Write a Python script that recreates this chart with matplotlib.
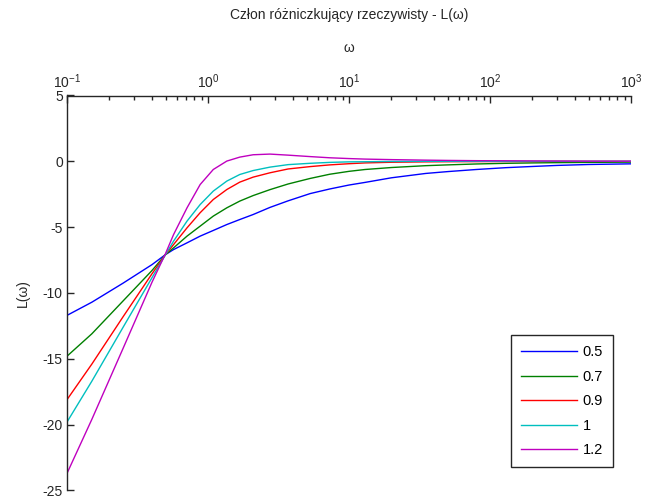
import numpy as np
import matplotlib
matplotlib.use("Agg")
import matplotlib.pyplot as plt
from matplotlib.ticker import LogLocator, NullFormatter

plt.rcParams['font.family'] = ['Liberation Sans', 'DejaVu Sans']
plt.rcParams['axes.unicode_minus'] = False

omega = [0.1, 0.15, 0.25, 0.4, 0.5, 0.57, 0.71, 0.88, 1.09, 1.36, 1.68, 2.09, 2.75, 3.7,
         5.3, 7.3, 10, 13, 20, 35, 50, 80, 130, 200, 300, 500, 1000]

L_05 = [-11.7, -10.7, -9.25, -7.85, -7.08, -6.7, -6.19, -5.68, -5.25, -4.8, -4.42, -4.04, -3.5, -3.0,
        -2.45, -2.1, -1.8, -1.6, -1.25, -0.92, -0.78, -0.62, -0.48, -0.39, -0.31, -0.24, -0.19]
L_07 = [-14.8, -13.1, -10.6, -8.3, -7.08, -6.57, -5.68, -4.92, -4.16, -3.53, -3.02, -2.6, -2.15, -1.72,
        -1.3, -0.98, -0.76, -0.62, -0.47, -0.33, -0.27, -0.2, -0.15, -0.12, -0.1, -0.08, -0.06]
L_09 = [-18.1, -15.4, -11.8, -8.55, -7.08, -6.32, -5.05, -3.9, -2.9, -2.14, -1.58, -1.2, -0.87, -0.58,
        -0.4, -0.27, -0.18, -0.12, -0.07, -0.04, -0.03, -0.02, -0.01, -0.01, 0, 0, 0]
L_10 = [-19.8, -16.7, -12.6, -8.85, -7.08, -6.06, -4.54, -3.28, -2.26, -1.5, -1.0, -0.7, -0.44, -0.25,
        -0.15, -0.08, -0.04, -0.03, -0.01, 0, 0, 0, 0, 0, 0, 0, 0]
L_12 = [-23.7, -19.6, -14.2, -9.2, -7.0, -5.56, -3.53, -1.76, -0.62, 0.02, 0.32, 0.5, 0.55, 0.47,
        0.36, 0.27, 0.21, 0.17, 0.13, 0.09, 0.07, 0.05, 0.04, 0.03, 0.02, 0.01, 0.01]

labels = ['0.5', '0.7', '0.9', '1', '1.2']
colors = ['#0000ff', '#008000', '#ff0000', '#00bfbf', '#bf00bf']

fig = plt.figure(figsize=(6.45, 4.99), dpi=100)
ax = fig.add_axes([67/645, 1 - 490.5/499, (631 - 67)/645, (490.5 - 95.5)/499])

for L, lab, c in zip([L_05, L_07, L_09, L_10, L_12], labels, colors):
    ax.semilogx(omega, L, color=c, linewidth=1, label=lab)

ax.set_xlim(0.1, 1000)
ax.set_ylim(-25, 5)
ax.set_yticks([5, 0, -5, -10, -15, -20, -25])

ax.xaxis.tick_top()
ax.xaxis.set_label_position('top')
ax.xaxis.set_major_locator(LogLocator(base=10, numticks=10))
ax.xaxis.set_minor_locator(LogLocator(base=10, subs=np.arange(2, 10), numticks=10))
ax.xaxis.set_minor_formatter(NullFormatter())

for s in ['right', 'bottom']:
    ax.spines[s].set_visible(False)
for s in ['left', 'top']:
    ax.spines[s].set_color('#262626')
    ax.spines[s].set_linewidth(1)

ax.tick_params(which='major', direction='in', length=5, width=1, color='#262626',
               labelsize=10, labelcolor='#262626', pad=3)
ax.tick_params(which='minor', direction='in', length=3, width=1, color='#262626')

ax.set_xlabel('ω', fontsize=10, color='#262626', labelpad=15)
ax.set_ylabel('L(ω)', fontsize=10, color='#262626', labelpad=9)
fig.text(349/645, 1 - 15/499, 'Człon różniczkujący rzeczywisty - L(ω)', fontsize=10,
         color='#262626', ha='center', va='center')

leg = ax.legend(loc='upper left', bbox_to_anchor=(511/645, 1 - 335/499),
                bbox_transform=fig.transFigure, fancybox=False, framealpha=1,
                edgecolor='#262626', fontsize=10.5, handlelength=3.8, handletextpad=0.4,
                labelspacing=0.72, borderpad=0.7, borderaxespad=0)
leg.get_frame().set_linewidth(1)

fig.savefig('out.png', dpi=100)
